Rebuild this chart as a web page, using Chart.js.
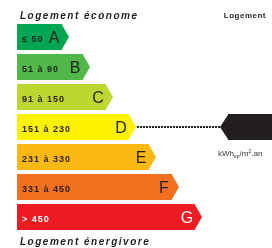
<!DOCTYPE html>
<html>
<head>
<meta charset="utf-8">
<script src="https://cdn.jsdelivr.net/npm/chart.js@4.4.1/dist/chart.umd.min.js"></script>
<style>
  body { margin: 0; background: #fff; }
  #boite { width: 272px; height: 248px; position: relative; }
</style>
</head>
<body>
<div id="boite"><canvas id="etiquette"></canvas></div>
<script>
// classes et tranches de consommation (kWh ep / m2.an)
const classes = ["A", "B", "C", "D", "E", "F", "G"];
const tranches = ["≤ 50", "51 à 90", "91 à 150", "151 à 230", "231 à 330", "331 à 450", "> 450"];
// longueur de chaque fleche
const longueurs = [45, 66, 89, 112, 132, 155, 178];
const couleurs = ["#00a651", "#50b848", "#bed630", "#fff200", "#fdb913", "#f37021", "#ed1c24"];
const couleursTexte = ["#231f20", "#231f20", "#231f20", "#231f20", "#231f20", "#231f20", "#ffffff"];
// classe du logement et etendue de l'etiquette noire
const classeLogement = "D";
const etiquetteLogement = [211, 255];

const pointe = 7;

const dessinEtiquette = {
  id: "dessinEtiquette",
  afterDatasetsDraw(chart) {
    const ctx = chart.ctx;
    const barres = chart.getDatasetMeta(0).data;
    ctx.save();

    barres.forEach((barre, i) => {
      const h = barre.height / 2;
      ctx.fillStyle = couleurs[i];
      ctx.beginPath();
      ctx.moveTo(barre.x - 0.5, barre.y - h);
      ctx.lineTo(barre.x + pointe, barre.y);
      ctx.lineTo(barre.x - 0.5, barre.y + h);
      ctx.closePath();
      ctx.fill();

      ctx.fillStyle = couleursTexte[i];
      ctx.textAlign = "left";
      ctx.textBaseline = "alphabetic";
      ctx.font = "bold 9px 'Liberation Sans', Arial, sans-serif";
      ctx.letterSpacing = "1px";
      ctx.fillText(tranches[i], barre.base + 5, barre.y + 4.5);

      ctx.letterSpacing = "0px";
      ctx.textAlign = "center";
      ctx.font = "16px 'Liberation Sans', Arial, sans-serif";
      ctx.fillText(classes[i], barre.x - 8, barre.y + 6);
    });

    // fleche noire du logement + pointilles
    const iLog = classes.indexOf(classeLogement);
    const marque = chart.getDatasetMeta(1).data[iLog];
    const barreLog = barres[iLog];
    const hm = marque.height / 2;
    const debut = Math.min(marque.x, marque.base);
    ctx.fillStyle = "#231f20";
    ctx.beginPath();
    ctx.moveTo(debut + 0.5, marque.y - hm);
    ctx.lineTo(debut - 8, marque.y);
    ctx.lineTo(debut + 0.5, marque.y + hm);
    ctx.closePath();
    ctx.fill();

    ctx.strokeStyle = "#231f20";
    ctx.lineWidth = 2;
    ctx.setLineDash([2, 1]);
    ctx.beginPath();
    ctx.moveTo(barreLog.x + pointe + 1, barreLog.y);
    ctx.lineTo(debut - 8, marque.y);
    ctx.stroke();
    ctx.setLineDash([]);

    // unite sous la fleche
    ctx.fillStyle = "#333";
    ctx.textAlign = "left";
    let x = debut - 10;
    const yb = marque.y + hm + 16;
    const morceau = (t, taille, dy) => {
      ctx.font = taille + "px 'Liberation Sans', Arial, sans-serif";
      ctx.fillText(t, x, yb + dy);
      x += ctx.measureText(t).width;
    };
    morceau("kWh", 8, 0);
    morceau("ep", 5, 1.5);
    morceau("/m", 8, 0);
    morceau("2", 5, -3.5);
    morceau(".an", 8, 0);

    // titres
    ctx.fillStyle = "#231f20";
    ctx.font = "italic bold 10px 'Liberation Sans', Arial, sans-serif";
    ctx.letterSpacing = "1.5px";
    ctx.fillText("Logement économe", chart.chartArea.left + 3, 19);
    ctx.fillText("Logement énergivore", chart.chartArea.left + 3, 245);
    ctx.font = "bold 8px 'Liberation Sans', Arial, sans-serif";
    ctx.letterSpacing = "0.5px";
    ctx.textAlign = "right";
    ctx.fillText("Logement", 266, 18);

    ctx.restore();
  }
};

new Chart(document.getElementById("etiquette"), {
  type: "bar",
  data: {
    labels: classes,
    datasets: [
      {
        data: longueurs,
        backgroundColor: couleurs,
        borderWidth: 0,
        grouped: false,
        barPercentage: 0.867,
        categoryPercentage: 1
      },
      {
        data: classes.map((c) => (c === classeLogement ? etiquetteLogement : null)),
        backgroundColor: "#231f20",
        borderWidth: 0,
        grouped: false,
        barPercentage: 0.867,
        categoryPercentage: 1
      }
    ]
  },
  options: {
    indexAxis: "y",
    responsive: true,
    maintainAspectRatio: false,
    animation: false,
    layout: { padding: { left: 17, top: 22, bottom: 16, right: 0 } },
    scales: {
      x: { display: false, min: 0, max: 255 },
      y: { display: false }
    },
    plugins: {
      legend: { display: false },
      tooltip: { enabled: false }
    }
  },
  plugins: [dessinEtiquette]
});
</script>
</body>
</html>
